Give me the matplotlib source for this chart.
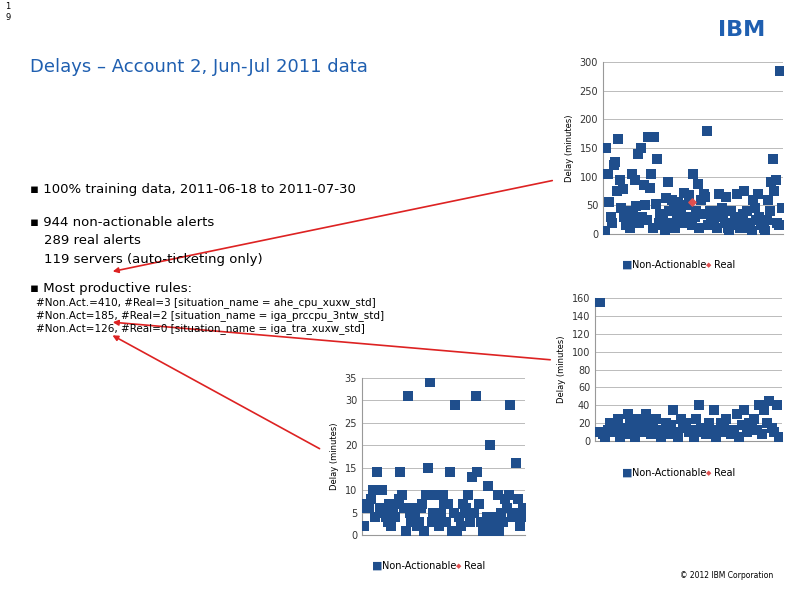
import matplotlib
matplotlib.use("Agg")
import matplotlib.pyplot as plt

W, H = 794, 595
blue = "#1f4e8c"
red = "#e05050"

c1_vals = [5,150,105,55,30,20,120,125,75,165,95,45,78,30,15,40,20,10,105,35,95,48,140,20,150,30,85,50,25,170,80,105,10,170,52,130,20,35,15,25,5,62,90,40,20,60,45,10,35,55,25,40,20,72,50,30,68,20,15,105,30,40,88,10,60,35,70,65,180,15,40,30,20,25,35,10,70,40,45,30,20,65,10,5,40,20,15,30,70,20,10,25,35,75,10,40,20,15,5,60,45,25,70,30,20,15,10,5,25,60,40,90,130,75,95,20,15,285,45]
c1_real = [(58, 55)]

c2_vals = [10,155,8,5,12,20,15,10,25,5,15,8,30,20,12,5,25,15,10,30,20,8,15,25,10,5,12,20,8,18,35,10,5,25,15,20,10,12,5,25,40,15,10,8,20,12,35,5,10,20,15,25,10,8,12,30,5,18,35,10,20,15,25,12,40,8,35,20,45,15,10,40,5]
c2_real = []

c3_vals = [2,6,7,6,8,10,4,14,10,6,10,5,4,3,7,2,5,4,7,8,14,9,6,1,31,5,3,6,4,2,3,6,7,1,9,15,34,3,5,9,4,2,5,9,7,3,7,14,1,5,29,1,4,2,7,5,6,9,3,13,5,31,14,7,3,1,2,4,11,20,1,2,4,9,1,5,3,8,6,9,29,4,5,16,8,2,4,6]

def pax(x0, y0, x1, y1):
    return fig.add_axes([x0 / W, 1 - y1 / H, (x1 - x0) / W, (y1 - y0) / H])

fig = plt.figure(figsize=(W / 100, H / 100), dpi=100)

def scatter_chart(ax, vals, real, ymax, step, ylab):
    x = list(range(len(vals)))
    ax.scatter(x, vals, marker="s", s=48, color=blue, zorder=3, linewidths=0)
    if real:
        ax.scatter([r[0] for r in real], [r[1] for r in real], marker="D", s=14, color=red, zorder=4)
    ax.set_ylim(0, ymax)
    ax.set_xlim(-1, len(vals))
    ax.set_yticks(range(0, ymax + 1, step))
    ax.grid(axis="y", color="#bbbbbb", lw=0.7, zorder=0)
    ax.set_xticks([])
    for s in ["top", "right"]:
        ax.spines[s].set_visible(False)
    ax.spines["left"].set_color("#999999")
    ax.spines["bottom"].set_color("#999999")
    ax.tick_params(labelsize=7, length=0, colors="#333333")
    ax.set_ylabel(ylab, fontsize=6)

ax1 = pax(603, 62, 783, 234)
scatter_chart(ax1, c1_vals, c1_real, 300, 50, "Delay (minutes)")
ax2 = pax(595, 298, 782, 441)
scatter_chart(ax2, c2_vals, c2_real, 160, 20, "Delay (minutes)")
ax3 = pax(362, 378, 525, 535)
scatter_chart(ax3, c3_vals, [], 35, 5, "Delay (minutes)")

def legend(x, y):
    fig.text(x / W, 1 - y / H, "\u25a0", color=blue, fontsize=8, va="center")
    fig.text((x + 10) / W, 1 - y / H, "Non-Actionable", fontsize=7, va="center")
    fig.text((x + 84) / W, 1 - y / H, "\u25c6", color=red, fontsize=5, va="center")
    fig.text((x + 92) / W, 1 - y / H, "Real", fontsize=7, va="center")

legend(622, 265)
legend(622, 473)
legend(372, 566)

def t(x, y, s, **kw):
    fig.text(x / W, 1 - y / H, s, va="center", **kw)

t(5, 12, "1\n9", fontsize=6)
t(30, 67, "Delays \u2013 Account 2, Jun-Jul 2011 data", fontsize=13, color="#1f5fb0")
t(718, 30, "IBM", fontsize=16, color="#1f5fb0", fontweight="bold")
t(30, 190, "\u25aa 100% training data, 2011-06-18 to 2011-07-30", fontsize=9.5)
t(30, 223, "\u25aa 944 non-actionable alerts", fontsize=9.5)
t(44, 241, "289 real alerts", fontsize=9.5)
t(44, 259, "119 servers (auto-ticketing only)", fontsize=9.5)
t(30, 288, "\u25aa Most productive rules:", fontsize=9.5)
t(36, 303, "#Non.Act.=410, #Real=3 [situation_name = ahe_cpu_xuxw_std]", fontsize=7.5)
t(36, 316, "#Non.Act=185, #Real=2 [situation_name = iga_prccpu_3ntw_std]", fontsize=7.5)
t(36, 329, "#Non.Act=126, #Real=0 [situation_name = iga_tra_xuxw_std]", fontsize=7.5)
t(680, 575, "\u00a9 2012 IBM Corporation", fontsize=5.5)

for (x0, y0, x1, y1) in [(555, 180, 110, 272), (553, 360, 110, 322), (322, 450, 110, 334)]:
    fig.add_artist(matplotlib.patches.FancyArrowPatch((x0 / W, 1 - y0 / H), (x1 / W, 1 - y1 / H),
                   transform=fig.transFigure, arrowstyle="-|>", mutation_scale=8, color="#dd2222", lw=1.2))

fig.savefig("out.png", dpi=100)
